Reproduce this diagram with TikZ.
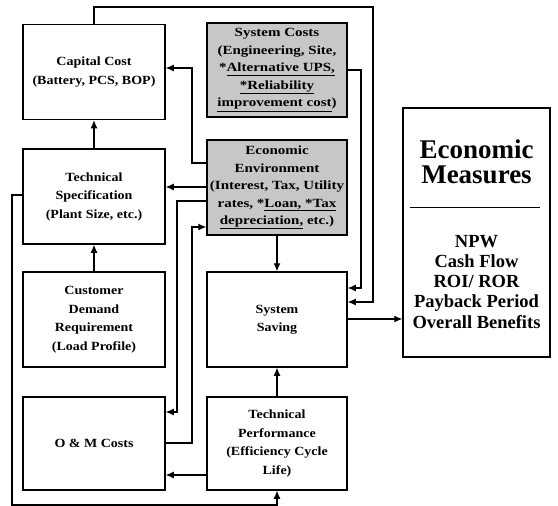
\documentclass[tikz,border=0pt]{standalone}
\usepackage{fontspec}
\setmainfont{Liberation Serif}
\newfontfamily\boxfont[FakeStretch=1.12]{Liberation Serif}
\newfontfamily\shadefont[FakeStretch=1.2]{Liberation Serif}
\usetikzlibrary{arrows.meta}
\begin{document}
\begin{tikzpicture}[x=1pt,y=-1pt,
  box/.style={draw, line width=1.5pt, minimum width=142pt, minimum height=95pt,
    align=center, inner sep=0pt, font=\boxfont\bfseries\fontsize{12.5}{18.5}\selectfont},
  shadebox/.style={box, fill=black!22, minimum width=140pt,
    font=\shadefont\bfseries\fontsize{12.5}{17.5}\selectfont},
  arr/.style={line width=1.1pt, -{Latex[length=8pt,width=7pt]}},
  title/.style={anchor=base, inner sep=0pt, font=\bfseries\fontsize{27}{27}\selectfont},
  item/.style={anchor=base, inner sep=0pt, font=\bfseries\fontsize{18.5}{20}\selectfont},
]
\useasboundingbox (0,0) rectangle (558,506);

% left column
\node[box] (cap) at (94,72) {Capital Cost\\(Battery, PCS, BOP)};
\node[box] (spec) at (94,196.5) {Technical\\Specification\\(Plant Size, etc.)};
\node[box] (cdr) at (94,319.5) {Customer\\Demand\\Requirement\\(Load Profile)};
\node[box, minimum height=93pt] (om) at (94,443.5) {O \& M Costs};

% middle column
\node[shadebox, minimum height=94pt] (sys) at (277,70)
  {System Costs\\(Engineering, Site,\\*\underline{Alternative UPS,}\\\underline{*Reliability}\\\underline{improvement cost})};
\node[shadebox] (env) at (277,187.5)
  {Economic\\Environment\\(Interest, Tax, Utility\\rates, *\underline{Loan, *Tax}\\\underline{depreciation,} etc.)};
\node[box, minimum width=140pt] (sav) at (277,319.5) {System\\Saving};
\node[box, minimum width=140pt, minimum height=93pt] (perf) at (277,443.5)
  {Technical\\Performance\\(Efficiency Cycle\\Life)};

% economic measures
\node[box, minimum width=147pt, minimum height=249pt] (meas) at (476.5,232.5) {};
\node[title] (t1) at (476.5,158) {Economic};
\node[title] (t2) at (476.5,183) {Measures};
\draw[line width=0.9pt] (410,207) -- (540,207);
\node[item] (m1) at (476.5,247) {NPW};
\node[item] (m2) at (476.5,267) {Cash Flow};
\node[item] (m3) at (476.5,287) {ROI/ ROR};
\node[item] (m4) at (476.5,307) {Payback Period};
\node[item] (m5) at (476.5,328) {Overall Benefits};

% connectors
\draw[arr] (spec.north) -- (cap.south);
\draw[arr] (cdr.north) -- (spec.south);
\draw[arr] (cap.north) -- (cap.north |- 0,7) -| (373,302) -- (sav.east |- 0,302);
\draw[arr] (sys.east |- 0,70) -| (361,288) -- (sav.east |- 0,288);
\draw[arr] (env.west |- 0,163) -| (192,68) -- (cap.east |- 0,68);
\draw[arr] (env.west |- 0,187) -- (spec.east |- 0,187);
\draw[arr] (env.west |- 0,201) -| (177,412) -- (om.east |- 0,412);
\draw[arr] (om.east |- 0,443) -| (192,227) -- (env.west |- 0,227);
\draw[arr] (env.south) -- (sav.north);
\draw[arr] (perf.north) -- (sav.south);
\draw[arr] (perf.west |- 0,475) -- (om.east |- 0,475);
\draw[arr] (spec.west |- 0,195) -| (12,505) -| (perf.south);
\draw[arr] (sav.east |- 0,319) -- (meas.west |- 0,319);
\end{tikzpicture}
\end{document}
